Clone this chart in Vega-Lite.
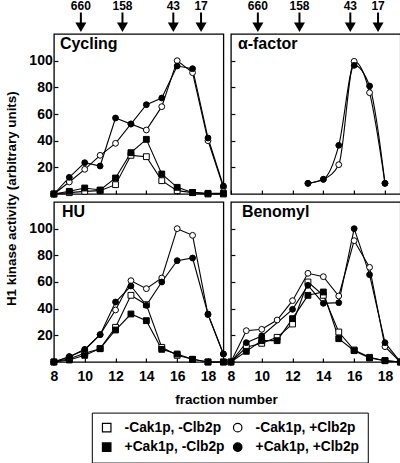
{
  "$schema": "https://vega.github.io/schema/vega-lite/v6.json",
  "background": "white",
  "padding": {"left": 2.9, "top": 0, "right": 0, "bottom": 0},
  "config": {
    "font": "Liberation Sans",
    "view": {"stroke": "black", "strokeWidth": 1.3},
    "axis": {"domain": false, "grid": false, "ticks": true, "tickColor": "black", "tickSize": -4, "tickWidth": 1.2, "labelFont": "Liberation Sans", "labelFontSize": 14, "labelFontWeight": "bold", "labelColor": "black", "labelFlush": false, "labelOverlap": false, "titleFont": "Liberation Sans", "titleColor": "black"},
    "axisX": {"labelPadding": 11.3},
    "axisY": {"labelPadding": 5.7},
    "title": {"font": "Liberation Sans", "fontSize": 16, "fontWeight": "bold", "color": "black", "anchor": "start", "frame": "group", "baseline": "alphabetic", "offset": -18}
  },
  "datasets": {
    "mw": [
      {"mw": "660", "fraction": 9.75},
      {"mw": "158", "fraction": 12.45},
      {"mw": "43", "fraction": 15.75},
      {"mw": "17", "fraction": 17.55}
    ],
    "kin": [
      {"panel": "Cycling", "series": "-Cak1p, -Clb2p", "fraction": 8, "activity": 0},
      {"panel": "Cycling", "series": "-Cak1p, -Clb2p", "fraction": 9, "activity": 1},
      {"panel": "Cycling", "series": "-Cak1p, -Clb2p", "fraction": 10, "activity": 2},
      {"panel": "Cycling", "series": "-Cak1p, -Clb2p", "fraction": 11, "activity": 2.5},
      {"panel": "Cycling", "series": "-Cak1p, -Clb2p", "fraction": 12, "activity": 7},
      {"panel": "Cycling", "series": "-Cak1p, -Clb2p", "fraction": 13, "activity": 29},
      {"panel": "Cycling", "series": "-Cak1p, -Clb2p", "fraction": 14, "activity": 28},
      {"panel": "Cycling", "series": "-Cak1p, -Clb2p", "fraction": 15, "activity": 10},
      {"panel": "Cycling", "series": "-Cak1p, -Clb2p", "fraction": 16, "activity": 2.5},
      {"panel": "Cycling", "series": "-Cak1p, -Clb2p", "fraction": 17, "activity": 1},
      {"panel": "Cycling", "series": "-Cak1p, -Clb2p", "fraction": 18, "activity": 0},
      {"panel": "Cycling", "series": "-Cak1p, -Clb2p", "fraction": 19, "activity": 0},
      {"panel": "Cycling", "series": "+Cak1p, -Clb2p", "fraction": 8, "activity": 0},
      {"panel": "Cycling", "series": "+Cak1p, -Clb2p", "fraction": 9, "activity": 2},
      {"panel": "Cycling", "series": "+Cak1p, -Clb2p", "fraction": 10, "activity": 4.5},
      {"panel": "Cycling", "series": "+Cak1p, -Clb2p", "fraction": 11, "activity": 3},
      {"panel": "Cycling", "series": "+Cak1p, -Clb2p", "fraction": 12, "activity": 12},
      {"panel": "Cycling", "series": "+Cak1p, -Clb2p", "fraction": 13, "activity": 31},
      {"panel": "Cycling", "series": "+Cak1p, -Clb2p", "fraction": 14, "activity": 41},
      {"panel": "Cycling", "series": "+Cak1p, -Clb2p", "fraction": 15, "activity": 15},
      {"panel": "Cycling", "series": "+Cak1p, -Clb2p", "fraction": 16, "activity": 5},
      {"panel": "Cycling", "series": "+Cak1p, -Clb2p", "fraction": 17, "activity": 1.2},
      {"panel": "Cycling", "series": "+Cak1p, -Clb2p", "fraction": 18, "activity": 0.5},
      {"panel": "Cycling", "series": "+Cak1p, -Clb2p", "fraction": 19, "activity": 0.5},
      {"panel": "Cycling", "series": "-Cak1p, +Clb2p", "fraction": 8, "activity": 0},
      {"panel": "Cycling", "series": "-Cak1p, +Clb2p", "fraction": 9, "activity": 9},
      {"panel": "Cycling", "series": "-Cak1p, +Clb2p", "fraction": 10, "activity": 18.5},
      {"panel": "Cycling", "series": "-Cak1p, +Clb2p", "fraction": 11, "activity": 29},
      {"panel": "Cycling", "series": "-Cak1p, +Clb2p", "fraction": 12, "activity": 38},
      {"panel": "Cycling", "series": "-Cak1p, +Clb2p", "fraction": 13, "activity": 52.5},
      {"panel": "Cycling", "series": "-Cak1p, +Clb2p", "fraction": 14, "activity": 48},
      {"panel": "Cycling", "series": "-Cak1p, +Clb2p", "fraction": 15, "activity": 65.5},
      {"panel": "Cycling", "series": "-Cak1p, +Clb2p", "fraction": 16, "activity": 100},
      {"panel": "Cycling", "series": "-Cak1p, +Clb2p", "fraction": 17, "activity": 91},
      {"panel": "Cycling", "series": "-Cak1p, +Clb2p", "fraction": 18, "activity": 40},
      {"panel": "Cycling", "series": "-Cak1p, +Clb2p", "fraction": 19, "activity": 5},
      {"panel": "Cycling", "series": "+Cak1p, +Clb2p", "fraction": 8, "activity": 0},
      {"panel": "Cycling", "series": "+Cak1p, +Clb2p", "fraction": 9, "activity": 12.5},
      {"panel": "Cycling", "series": "+Cak1p, +Clb2p", "fraction": 10, "activity": 23.5},
      {"panel": "Cycling", "series": "+Cak1p, +Clb2p", "fraction": 11, "activity": 21},
      {"panel": "Cycling", "series": "+Cak1p, +Clb2p", "fraction": 12, "activity": 57},
      {"panel": "Cycling", "series": "+Cak1p, +Clb2p", "fraction": 13, "activity": 52.5},
      {"panel": "Cycling", "series": "+Cak1p, +Clb2p", "fraction": 14, "activity": 67},
      {"panel": "Cycling", "series": "+Cak1p, +Clb2p", "fraction": 15, "activity": 72},
      {"panel": "Cycling", "series": "+Cak1p, +Clb2p", "fraction": 16, "activity": 96},
      {"panel": "Cycling", "series": "+Cak1p, +Clb2p", "fraction": 17, "activity": 94},
      {"panel": "Cycling", "series": "+Cak1p, +Clb2p", "fraction": 18, "activity": 42},
      {"panel": "Cycling", "series": "+Cak1p, +Clb2p", "fraction": 19, "activity": 6},
      {"panel": "alpha", "series": "-Cak1p, +Clb2p", "fraction": 13, "activity": 8},
      {"panel": "alpha", "series": "-Cak1p, +Clb2p", "fraction": 14, "activity": 11},
      {"panel": "alpha", "series": "-Cak1p, +Clb2p", "fraction": 15, "activity": 22},
      {"panel": "alpha", "series": "-Cak1p, +Clb2p", "fraction": 16, "activity": 99.5},
      {"panel": "alpha", "series": "-Cak1p, +Clb2p", "fraction": 17, "activity": 76},
      {"panel": "alpha", "series": "-Cak1p, +Clb2p", "fraction": 18, "activity": 8},
      {"panel": "alpha", "series": "+Cak1p, +Clb2p", "fraction": 13, "activity": 8},
      {"panel": "alpha", "series": "+Cak1p, +Clb2p", "fraction": 14, "activity": 11},
      {"panel": "alpha", "series": "+Cak1p, +Clb2p", "fraction": 15, "activity": 36.5},
      {"panel": "alpha", "series": "+Cak1p, +Clb2p", "fraction": 16, "activity": 96.5},
      {"panel": "alpha", "series": "+Cak1p, +Clb2p", "fraction": 17, "activity": 81},
      {"panel": "alpha", "series": "+Cak1p, +Clb2p", "fraction": 18, "activity": 8},
      {"panel": "HU", "series": "-Cak1p, -Clb2p", "fraction": 8, "activity": 0},
      {"panel": "HU", "series": "-Cak1p, -Clb2p", "fraction": 9, "activity": 2.5},
      {"panel": "HU", "series": "-Cak1p, -Clb2p", "fraction": 10, "activity": 6.5},
      {"panel": "HU", "series": "-Cak1p, -Clb2p", "fraction": 11, "activity": 10},
      {"panel": "HU", "series": "-Cak1p, -Clb2p", "fraction": 12, "activity": 26},
      {"panel": "HU", "series": "-Cak1p, -Clb2p", "fraction": 13, "activity": 50},
      {"panel": "HU", "series": "-Cak1p, -Clb2p", "fraction": 14, "activity": 43},
      {"panel": "HU", "series": "-Cak1p, -Clb2p", "fraction": 15, "activity": 11},
      {"panel": "HU", "series": "-Cak1p, -Clb2p", "fraction": 16, "activity": 5},
      {"panel": "HU", "series": "-Cak1p, -Clb2p", "fraction": 17, "activity": 2},
      {"panel": "HU", "series": "-Cak1p, -Clb2p", "fraction": 18, "activity": 0},
      {"panel": "HU", "series": "-Cak1p, -Clb2p", "fraction": 19, "activity": 0},
      {"panel": "HU", "series": "+Cak1p, -Clb2p", "fraction": 8, "activity": 0},
      {"panel": "HU", "series": "+Cak1p, -Clb2p", "fraction": 9, "activity": 1.5},
      {"panel": "HU", "series": "+Cak1p, -Clb2p", "fraction": 10, "activity": 5},
      {"panel": "HU", "series": "+Cak1p, -Clb2p", "fraction": 11, "activity": 10},
      {"panel": "HU", "series": "+Cak1p, -Clb2p", "fraction": 12, "activity": 24},
      {"panel": "HU", "series": "+Cak1p, -Clb2p", "fraction": 13, "activity": 36},
      {"panel": "HU", "series": "+Cak1p, -Clb2p", "fraction": 14, "activity": 31},
      {"panel": "HU", "series": "+Cak1p, -Clb2p", "fraction": 15, "activity": 9.5},
      {"panel": "HU", "series": "+Cak1p, -Clb2p", "fraction": 16, "activity": 6},
      {"panel": "HU", "series": "+Cak1p, -Clb2p", "fraction": 17, "activity": 2},
      {"panel": "HU", "series": "+Cak1p, -Clb2p", "fraction": 18, "activity": 0},
      {"panel": "HU", "series": "+Cak1p, -Clb2p", "fraction": 19, "activity": 0},
      {"panel": "HU", "series": "-Cak1p, +Clb2p", "fraction": 8, "activity": 0},
      {"panel": "HU", "series": "-Cak1p, +Clb2p", "fraction": 9, "activity": 4},
      {"panel": "HU", "series": "-Cak1p, +Clb2p", "fraction": 10, "activity": 9},
      {"panel": "HU", "series": "-Cak1p, +Clb2p", "fraction": 11, "activity": 20.5},
      {"panel": "HU", "series": "-Cak1p, +Clb2p", "fraction": 12, "activity": 39},
      {"panel": "HU", "series": "-Cak1p, +Clb2p", "fraction": 13, "activity": 61},
      {"panel": "HU", "series": "-Cak1p, +Clb2p", "fraction": 14, "activity": 55},
      {"panel": "HU", "series": "-Cak1p, +Clb2p", "fraction": 15, "activity": 63},
      {"panel": "HU", "series": "-Cak1p, +Clb2p", "fraction": 16, "activity": 100},
      {"panel": "HU", "series": "-Cak1p, +Clb2p", "fraction": 17, "activity": 95},
      {"panel": "HU", "series": "-Cak1p, +Clb2p", "fraction": 18, "activity": 35.5},
      {"panel": "HU", "series": "-Cak1p, +Clb2p", "fraction": 19, "activity": 6},
      {"panel": "HU", "series": "+Cak1p, +Clb2p", "fraction": 8, "activity": 0},
      {"panel": "HU", "series": "+Cak1p, +Clb2p", "fraction": 9, "activity": 4},
      {"panel": "HU", "series": "+Cak1p, +Clb2p", "fraction": 10, "activity": 9.5},
      {"panel": "HU", "series": "+Cak1p, +Clb2p", "fraction": 11, "activity": 20.5},
      {"panel": "HU", "series": "+Cak1p, +Clb2p", "fraction": 12, "activity": 45},
      {"panel": "HU", "series": "+Cak1p, +Clb2p", "fraction": 13, "activity": 57},
      {"panel": "HU", "series": "+Cak1p, +Clb2p", "fraction": 14, "activity": 42.5},
      {"panel": "HU", "series": "+Cak1p, +Clb2p", "fraction": 15, "activity": 60},
      {"panel": "HU", "series": "+Cak1p, +Clb2p", "fraction": 16, "activity": 76},
      {"panel": "HU", "series": "+Cak1p, +Clb2p", "fraction": 17, "activity": 78},
      {"panel": "HU", "series": "+Cak1p, +Clb2p", "fraction": 18, "activity": 36},
      {"panel": "HU", "series": "+Cak1p, +Clb2p", "fraction": 19, "activity": 6},
      {"panel": "Benomyl", "series": "-Cak1p, -Clb2p", "fraction": 8, "activity": 0},
      {"panel": "Benomyl", "series": "-Cak1p, -Clb2p", "fraction": 9, "activity": 11},
      {"panel": "Benomyl", "series": "-Cak1p, -Clb2p", "fraction": 10, "activity": 14},
      {"panel": "Benomyl", "series": "-Cak1p, -Clb2p", "fraction": 11, "activity": 18.5},
      {"panel": "Benomyl", "series": "-Cak1p, -Clb2p", "fraction": 12, "activity": 28.5},
      {"panel": "Benomyl", "series": "-Cak1p, -Clb2p", "fraction": 13, "activity": 60},
      {"panel": "Benomyl", "series": "-Cak1p, -Clb2p", "fraction": 14, "activity": 50},
      {"panel": "Benomyl", "series": "-Cak1p, -Clb2p", "fraction": 15, "activity": 22.5},
      {"panel": "Benomyl", "series": "-Cak1p, -Clb2p", "fraction": 16, "activity": 9},
      {"panel": "Benomyl", "series": "-Cak1p, -Clb2p", "fraction": 17, "activity": 3.5},
      {"panel": "Benomyl", "series": "-Cak1p, -Clb2p", "fraction": 18, "activity": 1},
      {"panel": "Benomyl", "series": "-Cak1p, -Clb2p", "fraction": 19, "activity": 0},
      {"panel": "Benomyl", "series": "+Cak1p, -Clb2p", "fraction": 8, "activity": 0},
      {"panel": "Benomyl", "series": "+Cak1p, -Clb2p", "fraction": 9, "activity": 8},
      {"panel": "Benomyl", "series": "+Cak1p, -Clb2p", "fraction": 10, "activity": 16},
      {"panel": "Benomyl", "series": "+Cak1p, -Clb2p", "fraction": 11, "activity": 16},
      {"panel": "Benomyl", "series": "+Cak1p, -Clb2p", "fraction": 12, "activity": 32.5},
      {"panel": "Benomyl", "series": "+Cak1p, -Clb2p", "fraction": 13, "activity": 50},
      {"panel": "Benomyl", "series": "+Cak1p, -Clb2p", "fraction": 14, "activity": 52.5},
      {"panel": "Benomyl", "series": "+Cak1p, -Clb2p", "fraction": 15, "activity": 17.5},
      {"panel": "Benomyl", "series": "+Cak1p, -Clb2p", "fraction": 16, "activity": 8.5},
      {"panel": "Benomyl", "series": "+Cak1p, -Clb2p", "fraction": 17, "activity": 3},
      {"panel": "Benomyl", "series": "+Cak1p, -Clb2p", "fraction": 18, "activity": 1},
      {"panel": "Benomyl", "series": "+Cak1p, -Clb2p", "fraction": 19, "activity": 0},
      {"panel": "Benomyl", "series": "-Cak1p, +Clb2p", "fraction": 8, "activity": 0},
      {"panel": "Benomyl", "series": "-Cak1p, +Clb2p", "fraction": 9, "activity": 23.5},
      {"panel": "Benomyl", "series": "-Cak1p, +Clb2p", "fraction": 10, "activity": 24.5},
      {"panel": "Benomyl", "series": "-Cak1p, +Clb2p", "fraction": 11, "activity": 31.5},
      {"panel": "Benomyl", "series": "-Cak1p, +Clb2p", "fraction": 12, "activity": 46},
      {"panel": "Benomyl", "series": "-Cak1p, +Clb2p", "fraction": 13, "activity": 66.5},
      {"panel": "Benomyl", "series": "-Cak1p, +Clb2p", "fraction": 14, "activity": 64},
      {"panel": "Benomyl", "series": "-Cak1p, +Clb2p", "fraction": 15, "activity": 49.5},
      {"panel": "Benomyl", "series": "-Cak1p, +Clb2p", "fraction": 16, "activity": 91},
      {"panel": "Benomyl", "series": "-Cak1p, +Clb2p", "fraction": 17, "activity": 71},
      {"panel": "Benomyl", "series": "-Cak1p, +Clb2p", "fraction": 18, "activity": 11.5},
      {"panel": "Benomyl", "series": "-Cak1p, +Clb2p", "fraction": 19, "activity": 0},
      {"panel": "Benomyl", "series": "+Cak1p, +Clb2p", "fraction": 8, "activity": 0},
      {"panel": "Benomyl", "series": "+Cak1p, +Clb2p", "fraction": 9, "activity": 14.5},
      {"panel": "Benomyl", "series": "+Cak1p, +Clb2p", "fraction": 10, "activity": 19.5},
      {"panel": "Benomyl", "series": "+Cak1p, +Clb2p", "fraction": 12, "activity": 39.5},
      {"panel": "Benomyl", "series": "+Cak1p, +Clb2p", "fraction": 13, "activity": 57.5},
      {"panel": "Benomyl", "series": "+Cak1p, +Clb2p", "fraction": 14, "activity": 44},
      {"panel": "Benomyl", "series": "+Cak1p, +Clb2p", "fraction": 15, "activity": 44.5},
      {"panel": "Benomyl", "series": "+Cak1p, +Clb2p", "fraction": 16, "activity": 100},
      {"panel": "Benomyl", "series": "+Cak1p, +Clb2p", "fraction": 17, "activity": 65.5},
      {"panel": "Benomyl", "series": "+Cak1p, +Clb2p", "fraction": 18, "activity": 14.5},
      {"panel": "Benomyl", "series": "+Cak1p, +Clb2p", "fraction": 19, "activity": 0}
    ]
  },
  "columns": 2,
  "spacing": {"row": 8, "column": 7},
  "bounds": "flush",
  "concat": [
    {
      "width": 169.5, "height": 25.3,
      "view": {"stroke": null},
      "data": {"name": "mw"},
      "layer": [
        {
          "mark": {"type": "text", "fontSize": 12, "fontWeight": "bold", "baseline": "alphabetic", "align": "center", "color": "black"},
          "encoding": {"x": {"field": "fraction", "type": "quantitative", "scale": {"domain": [8, 19], "nice": false, "zero": false}, "axis": null}, "y": {"datum": 15, "type": "quantitative", "scale": {"domain": [0, 25.3], "nice": false, "zero": false}, "axis": null}, "text": {"field": "mw"}}
        },
        {
          "mark": {"type": "rule", "strokeWidth": 2, "color": "black"},
          "encoding": {"x": {"field": "fraction", "type": "quantitative"}, "y": {"datum": 12.8}, "y2": {"datum": 1.3}}
        },
        {
          "mark": {"type": "point", "shape": "triangle-down", "filled": true, "color": "black", "size": 121, "opacity": 1},
          "encoding": {"x": {"field": "fraction", "type": "quantitative"}, "y": {"datum": -1.9}}
        }
      ]
    },
    {
      "width": 169.5, "height": 25.3,
      "view": {"stroke": null},
      "data": {"name": "mw"},
      "layer": [
        {
          "mark": {"type": "text", "fontSize": 12, "fontWeight": "bold", "baseline": "alphabetic", "align": "center", "color": "black"},
          "encoding": {"x": {"field": "fraction", "type": "quantitative", "scale": {"domain": [8, 19], "nice": false, "zero": false}, "axis": null}, "y": {"datum": 15, "type": "quantitative", "scale": {"domain": [0, 25.3], "nice": false, "zero": false}, "axis": null}, "text": {"field": "mw"}}
        },
        {
          "mark": {"type": "rule", "strokeWidth": 2, "color": "black"},
          "encoding": {"x": {"field": "fraction", "type": "quantitative"}, "y": {"datum": 12.8}, "y2": {"datum": 1.3}}
        },
        {
          "mark": {"type": "point", "shape": "triangle-down", "filled": true, "color": "black", "size": 121, "opacity": 1},
          "encoding": {"x": {"field": "fraction", "type": "quantitative"}, "y": {"datum": -1.9}}
        }
      ]
    },
    {
      "width": 169.5, "height": 160,
      "title": {"text": "Cycling", "dx": 6},
      "data": {"name": "kin"},
      "transform": [{"filter": "datum.panel === 'Cycling'"}],
      "layer": [
        {
          "mark": {"type": "line", "color": "black", "strokeWidth": 1.1},
          "encoding": {
            "x": {"field": "fraction", "type": "quantitative", "scale": {"domain": [8, 19], "nice": false, "zero": false}, "axis": {"values": [8, 10, 12, 14, 16, 18], "tickCount": 20, "format": "d", "labels": false, "title": null}},
            "y": {"field": "activity", "type": "quantitative", "scale": {"domain": [0, 120], "nice": false}, "axis": {"values": [20, 40, 60, 80, 100], "tickCount": 20, "format": "d", "labelOverlap": false, "title": "H1 kinase activity (arbitrary units)", "titleFontSize": 13.4, "titleFontWeight": "bold", "titleAlign": "center", "titleBaseline": "alphabetic", "titleAngle": -90, "titleX": -38.7, "titleY": 164.2}},
            "detail": {"field": "series"}
          }
        },
        {
          "mark": {"type": "point", "filled": true, "strokeWidth": 1, "size": 34, "opacity": 1},
          "encoding": {
            "x": {"field": "fraction", "type": "quantitative"},
            "y": {"field": "activity", "type": "quantitative"},
            "shape": {"field": "series", "type": "nominal", "scale": {"domain": ["-Cak1p, -Clb2p", "-Cak1p, +Clb2p", "+Cak1p, -Clb2p", "+Cak1p, +Clb2p"], "range": ["square", "circle", "square", "circle"]}, "legend": {"title": null, "orient": "none", "legendX": 37.9, "legendY": 412.6, "direction": "horizontal", "columns": 2, "padding": 8, "rowPadding": 4.7, "columnPadding": 6, "strokeColor": "black", "symbolSize": 72, "symbolStrokeWidth": 1.2, "labelFont": "Liberation Sans", "labelFontSize": 13.8, "labelFontWeight": "bold", "labelColor": "black", "labelOffset": 11, "labelLimit": 300}},
            "fill": {"field": "series", "type": "nominal", "scale": {"domain": ["-Cak1p, -Clb2p", "-Cak1p, +Clb2p", "+Cak1p, -Clb2p", "+Cak1p, +Clb2p"], "range": ["white", "white", "black", "black"]}, "legend": {"title": null, "orient": "none", "legendX": 37.9, "legendY": 412.6, "direction": "horizontal", "columns": 2, "padding": 8, "rowPadding": 4.7, "columnPadding": 6, "strokeColor": "black", "symbolSize": 72, "symbolStrokeWidth": 1.2, "labelFont": "Liberation Sans", "labelFontSize": 13.8, "labelFontWeight": "bold", "labelColor": "black", "labelOffset": 11, "labelLimit": 300}},
            "stroke": {"field": "series", "type": "nominal", "scale": {"domain": ["-Cak1p, -Clb2p", "-Cak1p, +Clb2p", "+Cak1p, -Clb2p", "+Cak1p, +Clb2p"], "range": ["black", "black", "black", "black"]}, "legend": {"title": null, "orient": "none", "legendX": 37.9, "legendY": 412.6, "direction": "horizontal", "columns": 2, "padding": 8, "rowPadding": 4.7, "columnPadding": 6, "strokeColor": "black", "symbolSize": 72, "symbolStrokeWidth": 1.2, "labelFont": "Liberation Sans", "labelFontSize": 13.8, "labelFontWeight": "bold", "labelColor": "black", "labelOffset": 11, "labelLimit": 300}}
          }
        }
      ]
    },
    {
      "width": 169.5, "height": 160,
      "title": {"text": "α-factor", "dx": 7},
      "data": {"name": "kin"},
      "transform": [{"filter": "datum.panel === 'alpha'"}],
      "layer": [
        {
          "mark": {"type": "line", "color": "black", "strokeWidth": 1.1, "interpolate": "monotone"},
          "encoding": {
            "x": {"field": "fraction", "type": "quantitative", "scale": {"domain": [8, 19], "nice": false, "zero": false}, "axis": {"values": [8, 10, 12, 14, 16, 18], "tickCount": 20, "format": "d", "labels": false, "title": null}},
            "y": {"field": "activity", "type": "quantitative", "scale": {"domain": [0, 120], "nice": false}, "axis": {"values": [20, 40, 60, 80, 100], "tickCount": 20, "format": "d", "labels": false, "title": null}},
            "detail": {"field": "series"}
          }
        },
        {
          "mark": {"type": "point", "filled": true, "strokeWidth": 1, "size": 34, "opacity": 1},
          "encoding": {
            "x": {"field": "fraction", "type": "quantitative"},
            "y": {"field": "activity", "type": "quantitative"},
            "shape": {"field": "series", "type": "nominal"},
            "fill": {"field": "series", "type": "nominal"},
            "stroke": {"field": "series", "type": "nominal"}
          }
        }
      ]
    },
    {
      "width": 169.5, "height": 160,
      "title": {"text": "HU", "dx": 8},
      "data": {"name": "kin"},
      "transform": [{"filter": "datum.panel === 'HU'"}],
      "layer": [
        {
          "mark": {"type": "line", "color": "black", "strokeWidth": 1.1},
          "encoding": {
            "x": {"field": "fraction", "type": "quantitative", "scale": {"domain": [8, 19], "nice": false, "zero": false}, "axis": {"values": [8, 10, 12, 14, 16, 18], "tickCount": 20, "format": "d", "labelOverlap": false, "title": "fraction number", "titleFontSize": 13.5, "titleFontWeight": "bold", "titleAlign": "center", "titleBaseline": "alphabetic", "titleX": 172.1, "titleY": 41.3}},
            "y": {"field": "activity", "type": "quantitative", "scale": {"domain": [0, 120], "nice": false}, "axis": {"values": [20, 40, 60, 80, 100], "tickCount": 20, "format": "d", "labelOverlap": false, "title": null}},
            "detail": {"field": "series"}
          }
        },
        {
          "mark": {"type": "point", "filled": true, "strokeWidth": 1, "size": 34, "opacity": 1},
          "encoding": {
            "x": {"field": "fraction", "type": "quantitative"},
            "y": {"field": "activity", "type": "quantitative"},
            "shape": {"field": "series", "type": "nominal"},
            "fill": {"field": "series", "type": "nominal"},
            "stroke": {"field": "series", "type": "nominal"}
          }
        }
      ]
    },
    {
      "width": 169.5, "height": 160,
      "title": {"text": "Benomyl", "dx": 11},
      "data": {"name": "kin"},
      "transform": [{"filter": "datum.panel === 'Benomyl'"}],
      "layer": [
        {
          "mark": {"type": "line", "color": "black", "strokeWidth": 1.1},
          "encoding": {
            "x": {"field": "fraction", "type": "quantitative", "scale": {"domain": [8, 19], "nice": false, "zero": false}, "axis": {"values": [8, 10, 12, 14, 16, 18], "tickCount": 20, "format": "d", "labelOverlap": false, "title": null}},
            "y": {"field": "activity", "type": "quantitative", "scale": {"domain": [0, 120], "nice": false}, "axis": {"values": [20, 40, 60, 80, 100], "tickCount": 20, "format": "d", "labels": false, "title": null}},
            "detail": {"field": "series"}
          }
        },
        {
          "mark": {"type": "point", "filled": true, "strokeWidth": 1, "size": 34, "opacity": 1},
          "encoding": {
            "x": {"field": "fraction", "type": "quantitative"},
            "y": {"field": "activity", "type": "quantitative"},
            "shape": {"field": "series", "type": "nominal"},
            "fill": {"field": "series", "type": "nominal"},
            "stroke": {"field": "series", "type": "nominal"}
          }
        }
      ]
    }
  ]
}
